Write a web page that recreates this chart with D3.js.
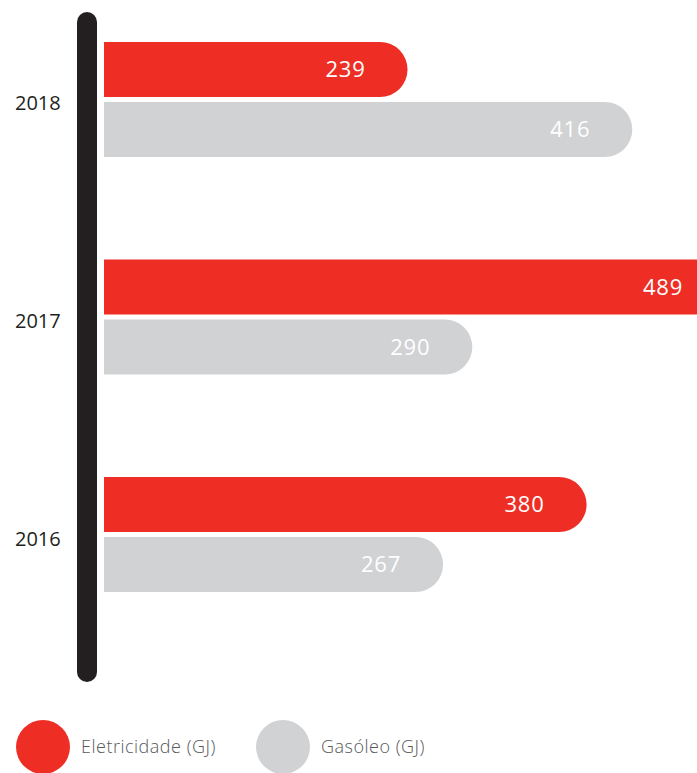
<!DOCTYPE html>
<html>
<head>
<meta charset="utf-8">
<script src="https://cdn.jsdelivr.net/npm/d3@7"></script>
<style>
  body { margin: 0; background: #fff; }
  text { font-family: "Open Sans", sans-serif; }
</style>
</head>
<body>
<svg class="chart"></svg>
<script>
// data
var years = ["2018", "2017", "2016"];
var series = ["Eletricidade (GJ)", "Gasóleo (GJ)"];
var eletricidade = [239, 489, 380];
var gasoleo = [416, 290, 267];
var colors = ["#ee2e24", "#d1d2d4"];

var width = 697, height = 773;

var svg = d3.select(".chart")
    .attr("width", width)
    .attr("height", height);

// horizontal value scale, bars start right of the black spine
var x = d3.scaleLinear()
  .domain([0, 500])
  .range([104, 104 + 635]);

// one band per year
var y = d3.scaleBand()
  .domain(years)
  .range([42, 592])
  .paddingInner(0.4713)
  .paddingOuter(0);

// two bars inside each year band
var y1 = d3.scaleBand()
  .domain(series)
  .range([0, y.bandwidth()])
  .paddingInner(0.0833);

// build one row per bar
var rows = [];
years.forEach(function(yr, i) {
  rows.push({year: yr, key: series[0], value: eletricidade[i], color: colors[0]});
  rows.push({year: yr, key: series[1], value: gasoleo[i], color: colors[1]});
});

// path: square left edge, round right end
function pill(x0, x1, y0, h) {
  var r = h / 2;
  return "M" + x0 + "," + y0 +
    "H" + (x1 - r) +
    "A" + r + "," + r + " 0 0 1 " + (x1 - r) + "," + (y0 + h) +
    "H" + x0 + "Z";
}

var bars = svg.append("g").selectAll("g")
  .data(rows)
  .enter().append("g");

bars.append("path")
  .attr("d", function(d) {
    return pill(x(0), x(d.value), y(d.year) + y1(d.key), y1.bandwidth());
  })
  .attr("fill", function(d) { return d.color; });

bars.append("text")
  .attr("x", function(d) { return x(d.value) - 42; })
  .attr("y", function(d) { return y(d.year) + y1(d.key) + y1.bandwidth() / 2; })
  .attr("dy", "0.36em")
  .attr("text-anchor", "end")
  .attr("fill", "#fff")
  .style("font-size", "22px")
  .style("letter-spacing", "0.8px")
  .text(function(d) { return d.value; });

// black vertical spine
svg.append("line")
  .attr("x1", 87).attr("x2", 87)
  .attr("y1", 22).attr("y2", 672)
  .attr("stroke", "#231f20")
  .attr("stroke-width", 20)
  .attr("stroke-linecap", "round");

// year labels
svg.append("g").selectAll("text")
  .data(years)
  .enter().append("text")
  .attr("x", 15)
  .attr("y", function(d) { return y(d) + y.bandwidth() / 2 + 4; })
  .attr("dy", "0.35em")
  .attr("fill", "#231f20")
  .style("font-size", "20px")
  .style("font-weight", 500)
  .text(function(d) { return d; });

// legend
var legend = svg.append("g").selectAll("g")
  .data(series)
  .enter().append("g")
  .attr("transform", function(d, i) { return "translate(" + (43 + i * 240) + ",747)"; });

legend.append("circle")
  .attr("r", 27)
  .attr("fill", function(d, i) { return colors[i]; });

legend.append("text")
  .attr("x", 38)
  .attr("dy", "0.35em")
  .attr("fill", "#58595b")
  .style("font-size", "18px")
  .style("font-weight", 300)
  .style("letter-spacing", "0.5px")
  .text(function(d) { return d; });
</script>
</body>
</html>
